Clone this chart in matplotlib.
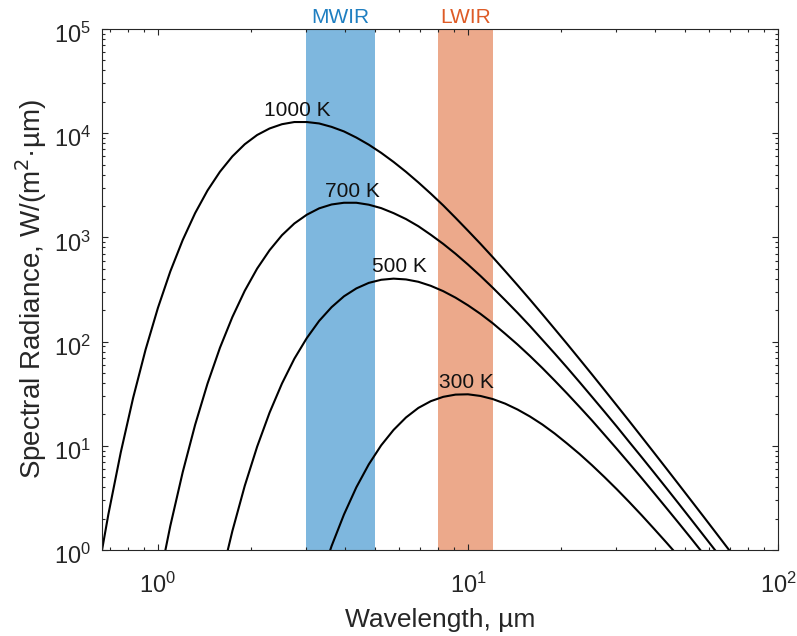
import numpy as np
import matplotlib
matplotlib.use("Agg")
import matplotlib.pyplot as plt
import matplotlib.transforms as mtransforms
from matplotlib.ticker import LogLocator, NullFormatter

plt.rcParams['font.family'] = ['Liberation Sans', 'DejaVu Sans']

# wavelength grid (µm) and spectral radiance values
wavelength_um = [0.631,0.6918,0.7586,0.8318,0.912,1,1.096,1.202,1.318,1.445,1.585,1.738,1.905,2.089,2.291,2.512,2.754,3.02,3.311,3.631,3.981,4.365,4.786,5.248,5.754,6.31,6.918,7.586,8.318,9.12,10,10.96,12.02,13.18,14.45,15.85,17.38,19.05,20.89,22.91,25.12,27.54,30.2,33.11,36.31,39.81,43.65,47.86,52.48,57.54,63.1,69.18,75.86,83.18,91.2,100]
radiance_1000K = [0.468,2.19,8.63,28.9,83.5,211,471,944,1.71e+03,2.82e+03,4.27e+03,5.99e+03,7.83e+03,9.61e+03,1.11e+04,1.22e+04,1.28e+04,1.28e+04,1.24e+04,1.15e+04,1.04e+04,9.08e+03,7.76e+03,6.48e+03,5.3e+03,4.26e+03,3.37e+03,2.63e+03,2.03e+03,1.54e+03,1.16e+03,871,646,475,348,253,183,132,94.9,67.8,48.4,34.4,24.4,17.3,12.2,8.6,6.05,4.25,2.98,2.09,1.46,1.02,0.713,0.498,0.347,0.242]
radiance_700K = [2.67e-05,0.000295,0.00255,0.0174,0.0967,0.443,1.7,5.59,15.9,39.5,87.3,172,307,502,753,1.05e+03,1.36e+03,1.65e+03,1.9e+03,2.07e+03,2.15e+03,2.15e+03,2.06e+03,1.91e+03,1.71e+03,1.5e+03,1.28e+03,1.06e+03,867,696,549,428,329,250,189,141,104,76.8,56.2,40.8,29.5,21.3,15.3,10.9,7.79,5.54,3.93,2.78,1.96,1.38,0.971,0.683,0.479,0.335,0.235,0.164]
radiance_500K = [5.84e-11,2.04e-09,5e-08,8.88e-07,1.18e-05,0.000119,0.000945,0.006,0.0311,0.134,0.487,1.52,4.12,9.81,20.8,39.6,68.5,108,158,214,272,324,366,392,402,395,375,343,305,264,223,185,150,119,93.8,72.7,55.7,42.2,31.7,23.6,17.5,12.8,9.35,6.79,4.91,3.53,2.53,1.81,1.29,0.914,0.648,0.458,0.323,0.227,0.16,0.112]
radiance_300K = [3.65e-24,1.85e-21,5.2e-19,8.55e-17,8.61e-15,5.55e-13,2.38e-11,7.06e-10,1.49e-08,2.31e-07,2.7e-06,2.44e-05,0.000175,0.00101,0.0048,0.0191,0.0647,0.189,0.482,1.09,2.19,4,6.63,10.1,14.2,18.7,23.1,26.8,29.5,31,31.2,30.1,28.1,25.4,22.3,19.1,16,13.1,10.5,8.34,6.51,5.02,3.83,2.89,2.16,1.6,1.18,0.864,0.629,0.456,0.329,0.236,0.169,0.121,0.0857,0.0608]

curve_labels = ["1000 K", "700 K", "500 K", "300 K"]
label_wavelength_um = [2.81, 4.23, 6.0, 9.85]

band_names = ["MWIR", "LWIR"]
band_edges_um = [(3, 5), (8, 12)]
band_fill = ["#7EB7DE", "#ECA98B"]
band_text = ["#1F7FC1", "#DE5B26"]

x_limits = (0.66, 100)
y_limits = (1, 1e5)

curves = [radiance_1000K, radiance_700K, radiance_500K, radiance_300K]

axis_col = "#262626"
fig = plt.figure(figsize=(7.97, 6.36), dpi=100)
ax = fig.add_axes([102/797, 86/636, 676/797, 521/636])

for (lo, hi), fc in zip(band_edges_um, band_fill):
    ax.axvspan(lo, hi, color=fc, lw=0, zorder=0)
for (lo, hi), name, tc in zip(band_edges_um, band_names, band_text):
    ax.annotate(name, xy=(np.sqrt(lo*hi), 1), xycoords=('data', 'axes fraction'),
                xytext=(0, 4.5), textcoords='offset points', ha='center', va='baseline',
                fontsize=15, color=tc)

for vals, lab, lx in zip(curves, curve_labels, label_wavelength_um):
    ax.plot(wavelength_um, vals, color='black', lw=1.5, zorder=3)
    ax.annotate(lab, xy=(lx, max(vals)), xytext=(0, 4.5), textcoords='offset points',
                ha='center', va='baseline', fontsize=15, color='#111111')

ax.set_xscale('log')
ax.set_yscale('log')
ax.set_xlim(*x_limits)
ax.set_ylim(*y_limits)
ax.xaxis.set_major_locator(LogLocator(base=10, numticks=10))
ax.yaxis.set_major_locator(LogLocator(base=10, numticks=10))
ax.xaxis.set_minor_locator(LogLocator(base=10, subs=np.arange(2, 10), numticks=20))
ax.yaxis.set_minor_locator(LogLocator(base=10, subs=np.arange(2, 10), numticks=20))
ax.xaxis.set_minor_formatter(NullFormatter())
ax.yaxis.set_minor_formatter(NullFormatter())
ax.tick_params(which='both', direction='in', top=True, right=True, colors=axis_col,
               labelsize=17, width=0.8)
ax.tick_params(which='major', length=4.5)
ax.tick_params(which='minor', length=2.3)
ax.tick_params(axis='x', which='major', pad=16)
ax.tick_params(axis='y', which='major', pad=8)
for s in ax.spines.values():
    s.set_color(axis_col)
    s.set_linewidth(0.8)
    s.set_zorder(5)

shift = mtransforms.ScaledTranslation(0, -4/100, fig.dpi_scale_trans)
for lbl in ax.get_yticklabels():
    lbl.set_transform(lbl.get_transform() + shift)

ax.set_xlabel("Wavelength, µm", fontsize=19, color=axis_col, va='top')
ax.xaxis.set_label_coords(0.5, -0.112)
ax.set_ylabel("Spectral Radiance, W/(m$^2$·µm)", fontsize=20, color=axis_col, va='bottom')
ax.yaxis.set_label_coords(-0.078, 0.5)

fig.savefig("out.png", dpi=100)
